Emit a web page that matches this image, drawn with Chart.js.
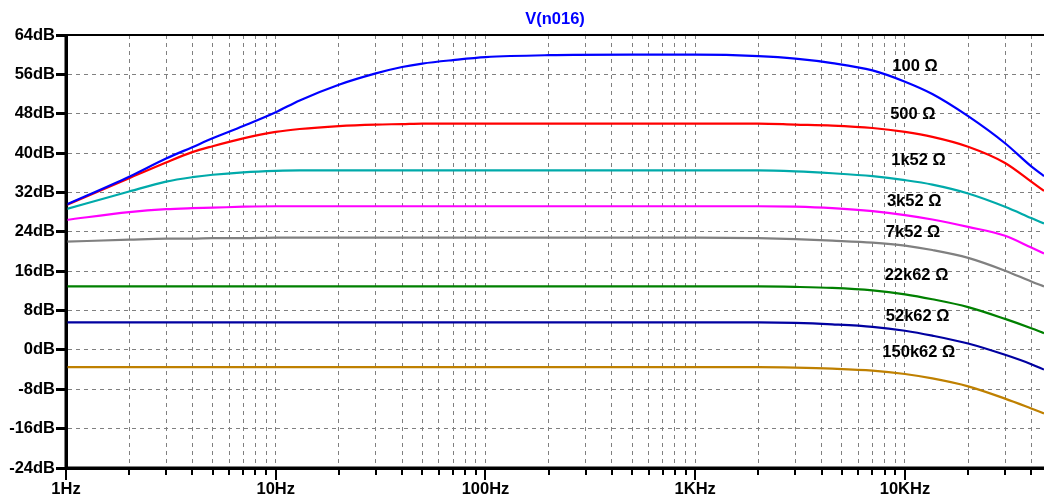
<!DOCTYPE html>
<html>
<head>
<meta charset="utf-8">
<style>
  html, body { margin: 0; padding: 0; background: #fff; }
  #wrap { width: 1044px; height: 496px; }
</style>
<script src="https://cdn.jsdelivr.net/npm/chart.js@4.4.1/dist/chart.umd.min.js"></script>
</head>
<body>
<div id="wrap"><canvas id="bode"></canvas></div>
<script>
// AC sweep points (Hz), shared by every trace
const freqs = [1, 2, 3, 4, 5, 7, 10, 13, 20, 30, 40, 50, 70, 100, 200, 500, 1000, 2000, 3000, 4500, 7000, 10000, 13500, 20000, 30000, 40000, 46000];

// V(n016) gain in dB for each load resistor
const r100    = [29.5, 35.2, 38.9, 41.2, 43.0, 45.5, 48.3, 50.7, 53.9, 56.2, 57.5, 58.2, 58.9, 59.5, 59.9, 60.0, 60.0, 59.7, 59.2, 58.3, 56.8, 54.5, 52.0, 47.5, 42.0, 37.3, 35.3];
const r500    = [29.4, 34.9, 38.1, 40.2, 41.4, 43.0, 44.3, 44.9, 45.5, 45.8, 45.9, 46.0, 46.0, 46.0, 46.0, 46.0, 46.0, 46.0, 45.8, 45.6, 45.1, 44.3, 43.3, 41.3, 38.0, 34.2, 32.3];
const r1k52   = [28.6, 32.2, 34.2, 35.1, 35.6, 36.1, 36.4, 36.5, 36.5, 36.5, 36.5, 36.5, 36.5, 36.5, 36.5, 36.5, 36.5, 36.5, 36.3, 35.9, 35.3, 34.5, 33.6, 31.8, 29.1, 26.8, 25.7];
const r3k52   = [26.4, 28.0, 28.6, 28.8, 28.9, 29.1, 29.2, 29.2, 29.2, 29.2, 29.2, 29.2, 29.2, 29.2, 29.2, 29.2, 29.2, 29.2, 29.1, 28.8, 28.2, 27.4, 26.5, 25.0, 23.2, 20.8, 19.6];
const r7k52   = [22.0, 22.4, 22.6, 22.6, 22.7, 22.7, 22.8, 22.8, 22.8, 22.8, 22.8, 22.8, 22.8, 22.8, 22.8, 22.8, 22.8, 22.7, 22.5, 22.2, 21.8, 21.2, 20.3, 18.7, 16.1, 13.9, 12.9];
const r22k62  = [12.9, 12.9, 12.9, 12.9, 12.9, 12.9, 12.9, 12.9, 12.9, 12.9, 12.9, 12.9, 12.9, 12.9, 12.9, 12.9, 12.9, 12.9, 12.8, 12.6, 12.1, 11.3, 10.3, 8.7, 6.3, 4.4, 3.4];
const r52k62  = [5.6, 5.6, 5.6, 5.6, 5.6, 5.6, 5.6, 5.6, 5.6, 5.6, 5.6, 5.6, 5.6, 5.6, 5.6, 5.6, 5.6, 5.6, 5.5, 5.2, 4.7, 3.9, 2.9, 1.3, -1.0, -2.9, -4.0];
const r150k62 = [-3.5, -3.5, -3.5, -3.5, -3.5, -3.5, -3.5, -3.5, -3.5, -3.5, -3.5, -3.5, -3.5, -3.5, -3.5, -3.5, -3.5, -3.5, -3.6, -3.8, -4.2, -4.9, -5.8, -7.4, -9.9, -11.9, -12.9];

const loadNames = ['100 Ω', '500 Ω', '1k52 Ω', '3k52 Ω', '7k52 Ω', '22k62 Ω', '52k62 Ω', '150k62 Ω'];
const decadeValues = [1, 10, 100, 1000, 10000];
const decadeLabels = ['1Hz', '10Hz', '100Hz', '1KHz', '10KHz'];
const dbTicks = [-24, -16, -8, 0, 8, 16, 24, 32, 40, 48, 56, 64];

const traces = [r100, r500, r1k52, r3k52, r7k52, r22k62, r52k62, r150k62];
const traceColors = ['#0000ff', '#ff0000', '#00aaaa', '#ff00ff', '#808080', '#008000', '#0000a0', '#bf8000'];

// where each trace name is written (freq, dB)
const nameSpots = [[8700, 57.7], [8500, 47.9], [8600, 38.6], [8200, 30.1], [8100, 23.8], [8000, 15.2], [8100, 6.9], [7800, -0.6]];

const FONT = '"Liberation Sans", Arial, sans-serif';
const GRID = '#808080';

function logTicks(max) {
  const out = [];
  for (let dec = 1; dec <= max; dec *= 10) {
    for (let m = 1; m <= 9; m++) {
      if (m * dec <= max) out.push({ value: m * dec });
    }
  }
  return out;
}

// frame, tick marks, title and trace names
const plotDecor = {
  id: 'plotDecor',
  afterDraw(chart) {
    const { ctx, chartArea: a, scales: { x, y } } = chart;
    ctx.save();
    ctx.strokeStyle = '#000';
    ctx.lineCap = 'butt';

    // top edge of the plot box
    ctx.lineWidth = 2;
    ctx.beginPath();
    ctx.moveTo(a.left, a.top);
    ctx.lineTo(a.right, a.top);
    ctx.stroke();

    // x ticks: long at decades, short in between
    ctx.lineWidth = 2;
    x.ticks.forEach(t => {
      const px = Math.round(x.getPixelForValue(t.value));
      const len = decadeValues.includes(t.value) ? 12 : 7;
      ctx.beginPath();
      ctx.moveTo(px, a.bottom);
      ctx.lineTo(px, a.bottom + len);
      ctx.stroke();
    });

    // axes on top of everything
    ctx.lineWidth = 3;
    ctx.beginPath();
    ctx.moveTo(a.left, a.top - 1);
    ctx.lineTo(a.left, a.bottom);
    ctx.lineTo(a.right, a.bottom);
    ctx.stroke();

    // title
    ctx.font = 'bold 16.5px ' + FONT;
    ctx.fillStyle = '#0000ff';
    ctx.textAlign = 'center';
    ctx.textBaseline = 'middle';
    ctx.fillText('V(n016)', (a.left + a.right) / 2, 19);

    // trace names
    ctx.fillStyle = '#000';
    ctx.textAlign = 'left';
    nameSpots.forEach((p, i) => {
      ctx.fillText(loadNames[i], x.getPixelForValue(p[0]), y.getPixelForValue(p[1]));
    });
    ctx.restore();
  }
};

Chart.defaults.font.family = FONT;

new Chart(document.getElementById('bode'), {
  type: 'line',
  data: {
    datasets: traces.map((vals, i) => ({
      label: loadNames[i],
      data: freqs.map((f, k) => ({ x: f, y: vals[k] })),
      borderColor: traceColors[i],
      borderWidth: 2.2,
      pointRadius: 0,
      fill: false,
      cubicInterpolationMode: 'monotone'
    }))
  },
  options: {
    responsive: true,
    maintainAspectRatio: false,
    animation: false,
    layout: { padding: { top: 35, right: 0, left: 0, bottom: 0 } },
    plugins: { legend: { display: false }, tooltip: { enabled: false }, title: { display: false } },
    scales: {
      x: {
        type: 'logarithmic',
        min: 1,
        max: 46000,
        afterBuildTicks: s => { s.ticks = logTicks(40000); },
        afterFit: s => { s.height = 28; },
        grid: {
          color: c => (c.tick && c.tick.value === 1) ? 'rgba(0,0,0,0)' : GRID,
          lineWidth: 1,
          tickLength: 12,
          tickColor: 'rgba(0,0,0,0)'
        },
        border: { display: true, color: '#000', width: 3, dash: [4, 4] },
        ticks: {
          autoSkip: false,
          maxRotation: 0,
          padding: 0,
          color: '#000',
          font: { size: 16.5, weight: 'bold' },
          callback: function (v) {
            const i = decadeValues.indexOf(v);
            return i >= 0 ? decadeLabels[i] : '';
          }
        }
      },
      y: {
        min: -24,
        max: 64,
        afterBuildTicks: s => { s.ticks = dbTicks.map(v => ({ value: v })); },
        afterFit: s => { s.width = 66; },
        grid: {
          color: c => (c.tick && (c.tick.value === -24 || c.tick.value === 64)) ? 'rgba(0,0,0,0)' : GRID,
          lineWidth: 1,
          tickLength: 10,
          tickWidth: 3,
          tickColor: '#000'
        },
        border: { display: true, color: '#000', width: 3, dash: [4, 4] },
        ticks: {
          padding: 1,
          color: '#000',
          font: { size: 16.5, weight: 'bold' },
          callback: v => v + 'dB'
        }
      }
    }
  },
  plugins: [plotDecor]
});
</script>
</body>
</html>
